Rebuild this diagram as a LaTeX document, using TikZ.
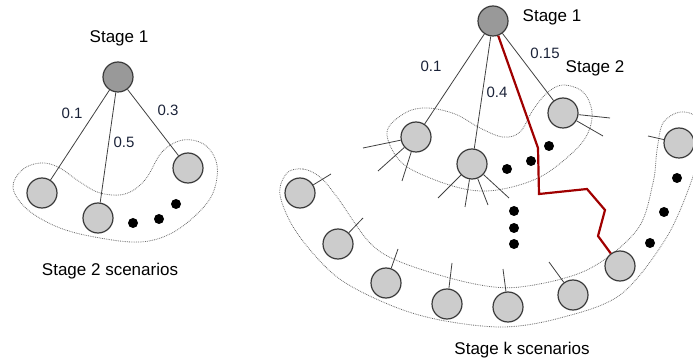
\documentclass[tikz,border=0pt]{standalone}
\usepackage{fontspec}
\setmainfont{Liberation Sans}
\definecolor{nodeedge}{HTML}{3A3A3A}
\definecolor{leaf}{HTML}{CCCCCC}
\definecolor{rootfill}{HTML}{999999}
\definecolor{numcol}{HTML}{1A2238}
\definecolor{pathred}{HTML}{A00000}
\definecolor{blobcol}{HTML}{6A6A6A}
\begin{document}
\begin{tikzpicture}[x=1pt,y=-1pt,
  leafnode/.style={circle,draw=nodeedge,fill=leaf,line width=1.2pt,minimum size=30pt,inner sep=0pt},
  rootnode/.style={leafnode,fill=rootfill},
  dotnode/.style={circle,fill=black,minimum size=10pt,inner sep=0pt},
  edge/.style={draw=black!75,line width=0.8pt},
  stub/.style={draw=black!75,line width=0.8pt},
  blob/.style={draw=blobcol,line width=0.8pt,densely dotted},
  stagelabel/.style={font=\fontsize{17}{20}\selectfont,text=black},
  numlabel/.style={font=\fontsize{15}{18}\selectfont,text=numcol},
  redpath/.style={draw=pathred,line width=2.2pt,line join=miter}]
\useasboundingbox (0,0) rectangle (693,363);

% ---------- left tree ----------
\draw[blob] plot[smooth cycle,tension=0.6] coordinates {(13,188) (22,170) (40,163) (58,167) (80,182) (100,193) (125,194) (145,180) (162,152) (183,140) (205,145) (217,165) (213,193) (196,215) (170,234) (140,242) (100,238) (60,228) (28,210)};
\node[rootnode] (L0) at (118,77) {};
\node[leafnode] (LA) at (42,193) {};
\node[leafnode] (LB) at (98,218) {};
\node[leafnode] (LC) at (188,168) {};
\node[dotnode] (Ld1) at (133,223) {};
\node[dotnode] (Ld2) at (159,219) {};
\node[dotnode] (Ld3) at (176,204) {};
\draw[edge] (L0) -- (LA);
\draw[edge] (L0) -- (LB);
\draw[edge] (L0) -- (LC);
\node[stagelabel] (Ls1) at (119,38) {Stage 1};
\node[numlabel] (Ln1) at (72,113) {0.1};
\node[numlabel] (Ln2) at (124,142) {0.5};
\node[numlabel] (Ln3) at (168,110) {0.3};
\node[stagelabel] (Ls2) at (110,271) {Stage 2 scenarios};

% ---------- right tree: blobs ----------
\draw[blob] plot[smooth cycle,tension=0.6] coordinates {(387,132) (405,113) (427,108) (455,114) (480,128) (503,137) (520,132) (533,110) (547,93) (563,85) (583,92) (592,112) (587,135) (570,155) (540,177) (503,189) (470,190) (430,178) (400,161)};
\draw[blob] plot[smooth cycle,tension=0.55] coordinates {(287,173) (303,169) (320,177) (337,197) (370,243) (403,263) (470,283) (520,287) (587,270) (637,230) (653,183) (657,150) (663,123) (680,112) (697,118) (700,145) (690,185) (665,240) (620,295) (560,318) (503,327) (440,320) (390,305) (337,277) (297,233) (280,195)};

% ---------- right tree: nodes ----------
\node[rootnode] (R0) at (493,21) {};
\node[leafnode] (R1) at (416,137) {};
\node[leafnode] (R2) at (472,164) {};
\node[leafnode] (R3) at (563,113) {};
\node[dotnode] (Rd1) at (507,169) {};
\node[dotnode] (Rd2) at (531,161) {};
\node[dotnode] (Rd3) at (549,146) {};
\node[dotnode] (Rv1) at (514,211) {};
\node[dotnode] (Rv2) at (514,228) {};
\node[dotnode] (Rv3) at (514,244) {};

\node[leafnode] (K1) at (300,193) {};
\node[leafnode] (K2) at (338,244) {};
\node[leafnode] (K3) at (386,283) {};
\node[leafnode] (K4) at (447,304) {};
\node[leafnode] (K5) at (508,307) {};
\node[leafnode] (K6) at (573,295) {};
\node[leafnode] (K7) at (620,266) {};
\node[leafnode] (K8) at (679,143) {};
\node[dotnode] (Kd1) at (677,178) {};
\node[dotnode] (Kd2) at (664,212) {};
\node[dotnode] (Kd3) at (650,243) {};

\draw[edge] (R0) -- (R1);
\draw[edge] (R0) -- (R2);
\draw[edge] (R0) -- (R3);

% stubs
\coordinate (a1) at (363,148);
\coordinate (a2) at (378,171);
\coordinate (a3) at (402,181);
\coordinate (b1) at (438,198);
\coordinate (b2) at (465,207);
\coordinate (b3) at (488,205);
\coordinate (b4) at (509,198);
\coordinate (c1) at (610,118);
\coordinate (c2) at (603,136);
\coordinate (k1s) at (331,174);
\coordinate (k2s) at (363,218);
\coordinate (k3s) at (398,249);
\coordinate (k4s) at (452,263);
\coordinate (k5s) at (503,269);
\coordinate (k6s) at (549,262);
\coordinate (k8s) at (648,136);
\foreach \s in {a1,a2,a3} \draw[stub] (R1) -- (\s);
\foreach \s in {b1,b2,b3,b4} \draw[stub] (R2) -- (\s);
\foreach \s in {c1,c2} \draw[stub] (R3) -- (\s);
\draw[stub] (K1) -- (k1s);
\draw[stub] (K2) -- (k2s);
\draw[stub] (K3) -- (k3s);
\draw[stub] (K4) -- (k4s);
\draw[stub] (K5) -- (k5s);
\draw[stub] (K6) -- (k6s);
\draw[stub] (K8) -- (k8s);

% red path
\coordinate (p1) at (538,148);
\coordinate (p2) at (539,194);
\coordinate (p3) at (587,189);
\coordinate (p4) at (605,210);
\coordinate (p5) at (598,236);
\draw[redpath] (R0) -- (p1) -- (p2) -- (p3) -- (p4) -- (p5) -- (K7);

% labels
\node[stagelabel] (Rs1) at (552,17) {Stage 1};
\node[numlabel] (Rn1) at (431,66) {0.1};
\node[numlabel] (Rn2) at (497,92) {0.4};
\node[numlabel] (Rn3) at (545,53) {0.15};
\node[stagelabel] (Rs2) at (595,68) {Stage 2};
\node[stagelabel] (Rsk) at (522,350) {Stage k scenarios};
\end{tikzpicture}
\end{document}
